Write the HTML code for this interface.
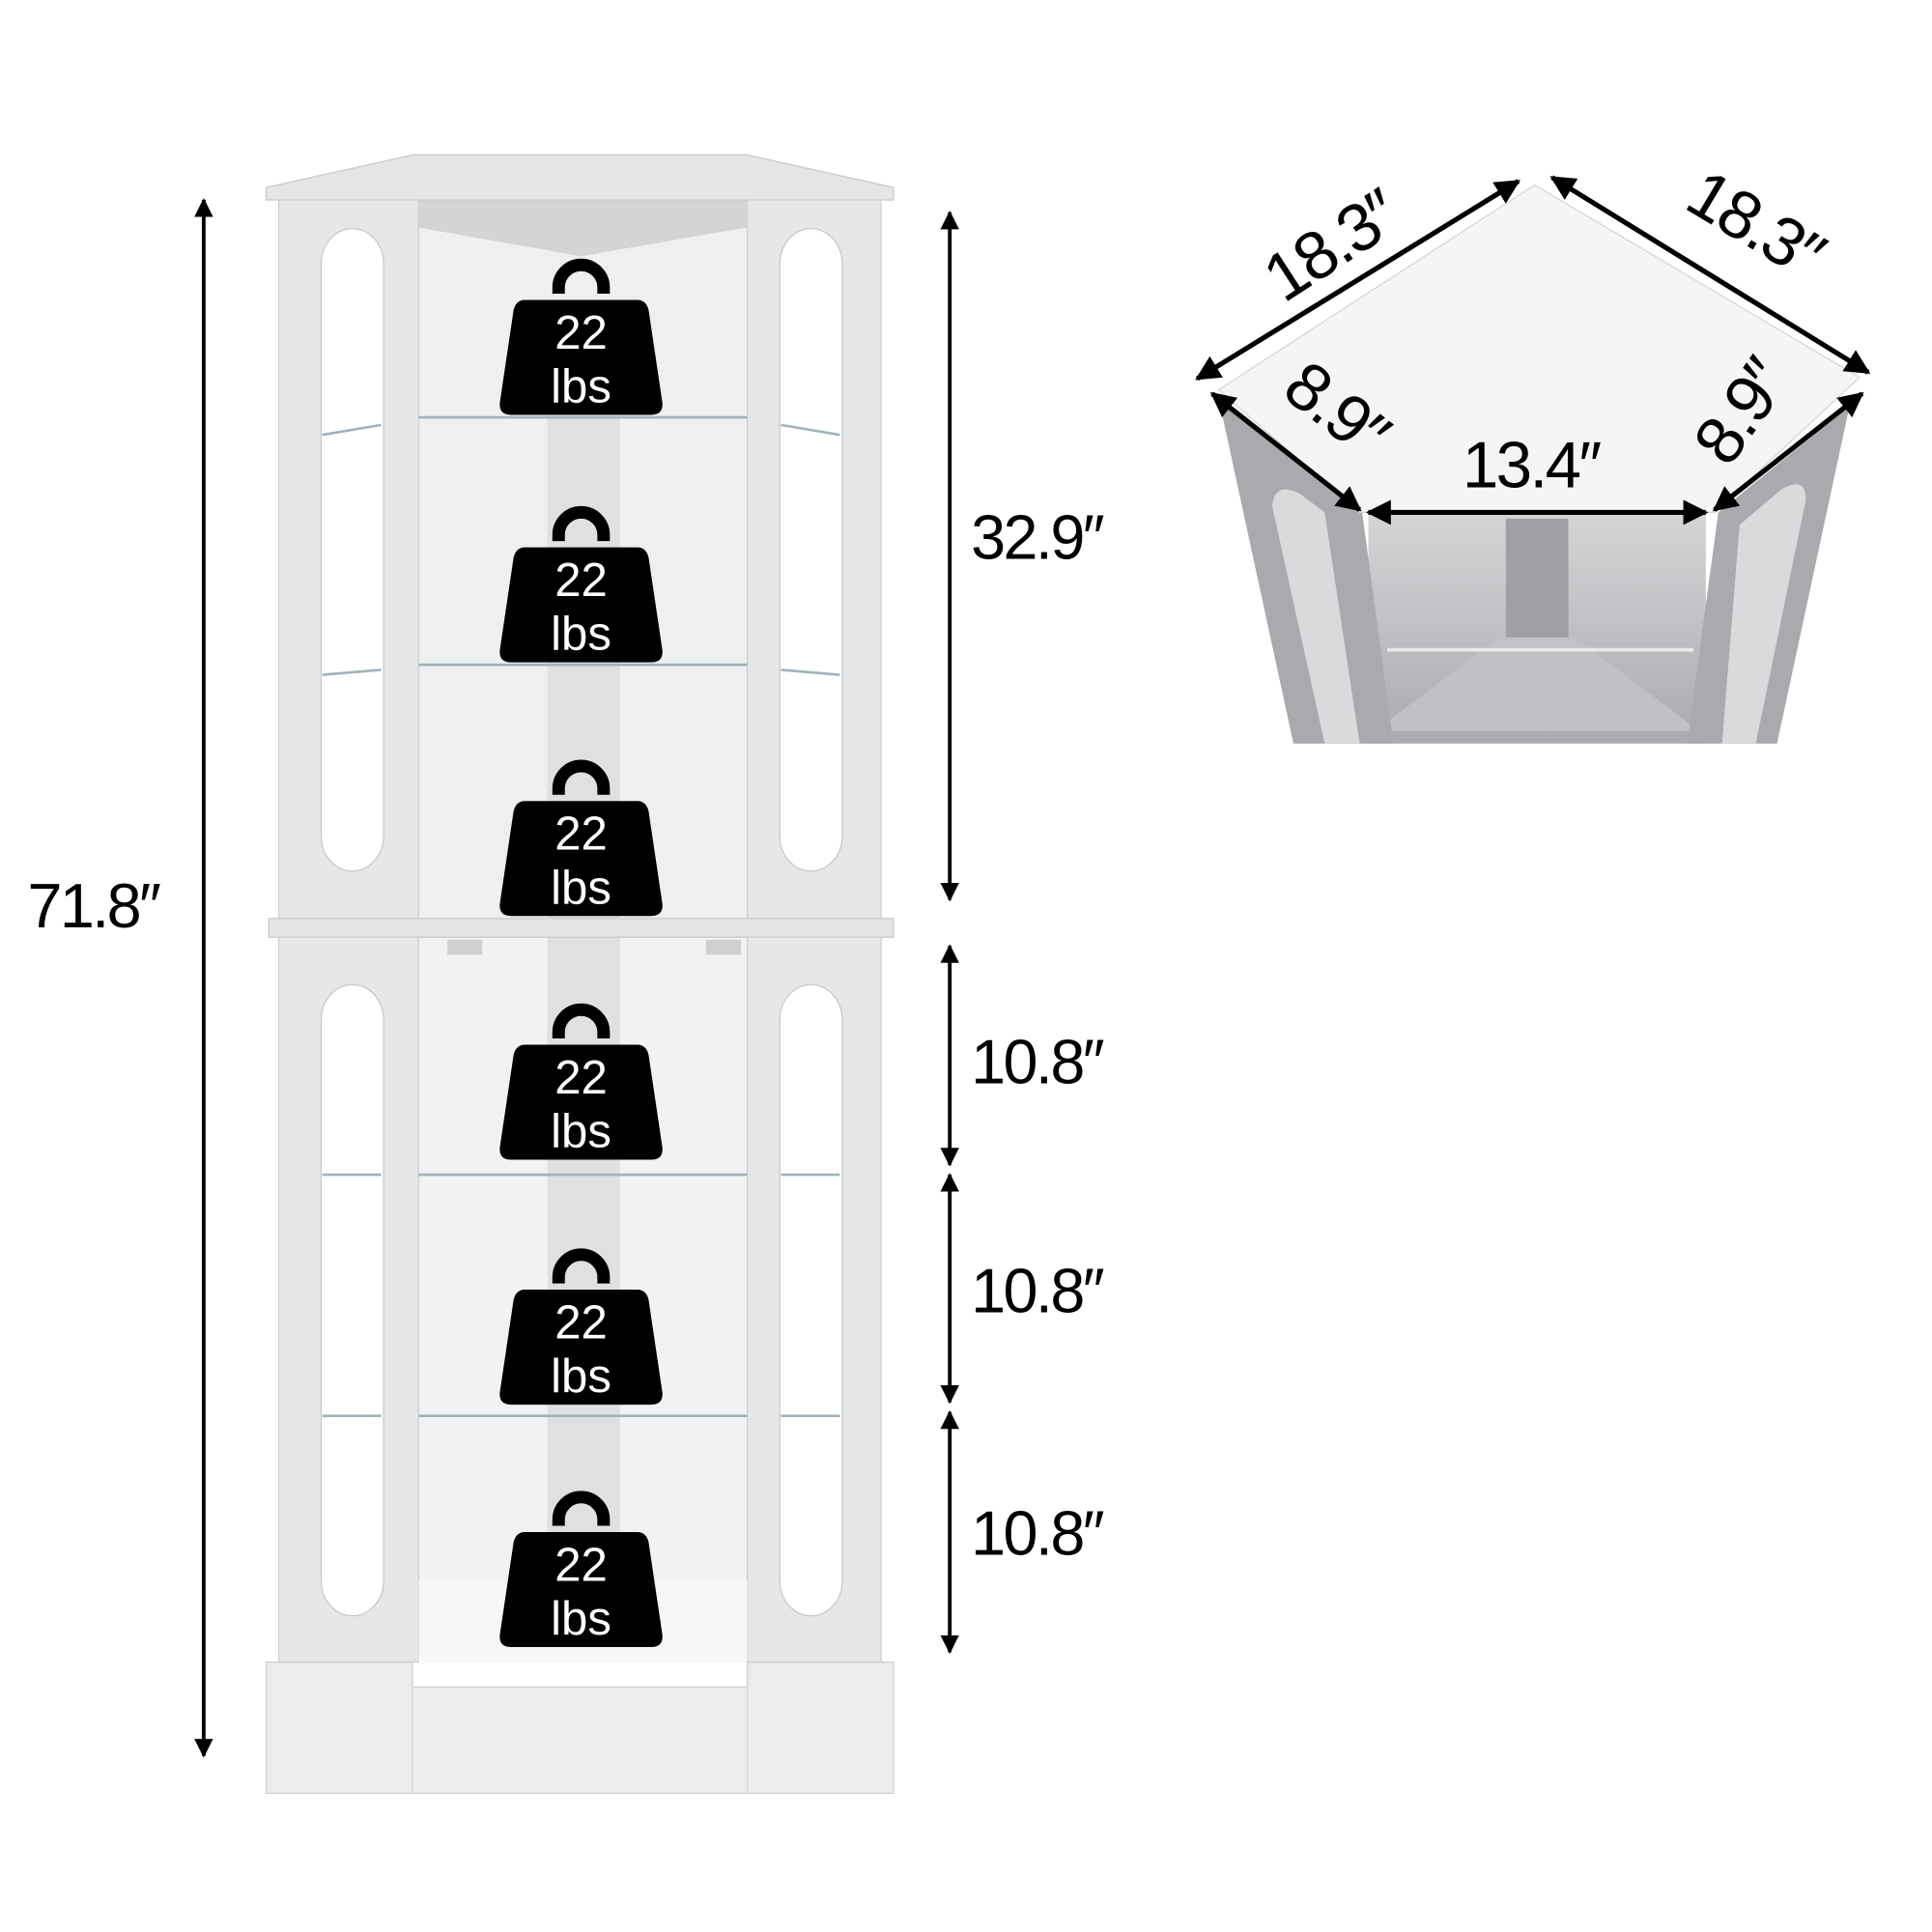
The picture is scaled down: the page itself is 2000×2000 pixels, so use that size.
<!DOCTYPE html>
<html><head><meta charset="utf-8"><style>html,body{margin:0;padding:0;background:#fff}svg{display:block}text{font-family:"Liberation Sans",sans-serif}</style></head>
<body>
<svg width="2000" height="2000" viewBox="0 0 1546 1546" xmlns="http://www.w3.org/2000/svg">
<defs>
<marker id="ah" viewBox="0 0 10 10" refX="9" refY="5" markerWidth="5" markerHeight="5" orient="auto-start-reverse"><path d="M0,0 L10,5 L0,10 Z" fill="#000"/></marker>
<linearGradient id="inner" x1="0" y1="0" x2="0" y2="1"><stop offset="0" stop-color="#d4d5d7"/><stop offset="1" stop-color="#a9abae"/></linearGradient>
<g id="wt">
<path d="M-18,-5 V-10 A18,18 0 0 1 18,-10 V-5" fill="none" stroke="#000" stroke-width="10"/>
<path d="M-45,0 H45 Q52,0 54,8 L65,82 Q66,92 56,92 H-56 Q-66,92 -65,82 L-54,8 Q-52,0 -45,0 Z" fill="#000"/>
</g>
</defs>
<rect width="1546" height="1546" fill="#fff"/>
<g>
<rect x="335" y="150" width="263" height="585" fill="#eeeff0"/>
<rect x="335" y="750" width="263" height="580" fill="#f1f2f3"/>
<polygon points="335,150 598,150 598,182 465,205 335,182" fill="#d3d4d6"/>
<rect x="438" y="335" width="58" height="400" fill="#dfe0e2"/>
<rect x="438" y="750" width="58" height="520" fill="#dfe0e2"/>
<polygon points="213,150 330,124 598,124 715,150 715,160 213,160" fill="#e4e5e7" stroke="#c9cacc"/>
<rect x="223" y="160" width="112" height="575" fill="#e6e7e9" stroke="#cfd0d2"/>
<rect x="598" y="160" width="107" height="575" fill="#e6e7e9" stroke="#cfd0d2"/>
<rect x="257" y="183" width="50" height="514" rx="28" fill="#fff" stroke="#c8c9cb"/>
<rect x="624" y="183" width="50" height="514" rx="28" fill="#fff" stroke="#c8c9cb"/>
<rect x="215" y="735" width="500" height="15" fill="#e2e3e5" stroke="#c9cacc"/>
<rect x="223" y="750" width="112" height="580" fill="#e6e7e9" stroke="#cfd0d2"/>
<rect x="598" y="750" width="107" height="580" fill="#e6e7e9" stroke="#cfd0d2"/>
<rect x="257" y="788" width="50" height="505" rx="28" fill="#fff" stroke="#c8c9cb"/>
<rect x="624" y="788" width="50" height="505" rx="28" fill="#fff" stroke="#c8c9cb"/>
<polygon points="335,1265 598,1265 598,1330 335,1330" fill="#f6f6f7"/>
<polygon points="213,1330 330,1330 330,1350 598,1350 598,1330 715,1330 715,1435 213,1435" fill="#ececed" stroke="#cfd0d2"/>
<line x1="330" y1="1350" x2="330" y2="1435" stroke="#d3d4d6"/>
<line x1="598" y1="1350" x2="598" y2="1435" stroke="#d3d4d6"/>
<g stroke="#9fb3b8" stroke-width="2">
<line x1="335" y1="334" x2="598" y2="334"/><line x1="335" y1="532" x2="598" y2="532"/>
<line x1="335" y1="940" x2="598" y2="940"/><line x1="335" y1="1133" x2="598" y2="1133"/>
<line x1="258" y1="348" x2="305" y2="340"/><line x1="625" y1="340" x2="672" y2="348"/>
<line x1="258" y1="540" x2="305" y2="536"/><line x1="625" y1="536" x2="672" y2="540"/>
<line x1="258" y1="940" x2="305" y2="940"/><line x1="625" y1="940" x2="672" y2="940"/>
<line x1="258" y1="1133" x2="305" y2="1133"/><line x1="625" y1="1133" x2="672" y2="1133"/>
</g>
<rect x="358" y="752" width="28" height="12" fill="#cfd0d2"/><rect x="565" y="752" width="28" height="12" fill="#cfd0d2"/>
</g>
<g>
<use href="#wt" x="465" y="240"/><use href="#wt" x="465" y="438"/><use href="#wt" x="465" y="641"/>
<use href="#wt" x="465" y="836"/><use href="#wt" x="465" y="1032"/><use href="#wt" x="465" y="1226"/>
</g>
<g fill="#fff" font-size="38" text-anchor="middle">
<text x="465" y="279">22</text><text x="465" y="322">lbs</text>
<text x="465" y="477">22</text><text x="465" y="520">lbs</text>
<text x="465" y="680">22</text><text x="465" y="723">lbs</text>
<text x="465" y="875">22</text><text x="465" y="918">lbs</text>
<text x="465" y="1071">22</text><text x="465" y="1114">lbs</text>
<text x="465" y="1265">22</text><text x="465" y="1308">lbs</text>
</g>
<g stroke="#000" stroke-width="3" marker-start="url(#ah)" marker-end="url(#ah)">
<line x1="163" y1="160" x2="163" y2="1405"/>
<line x1="760" y1="170" x2="760" y2="720"/>
<line x1="760" y1="757" x2="760" y2="932"/>
<line x1="760" y1="940" x2="760" y2="1122"/>
<line x1="760" y1="1130" x2="760" y2="1322"/>
</g>
<g font-size="50" fill="#000" letter-spacing="-2">
<text x="22" y="742">71.8″</text>
<text x="777" y="447">32.9″</text>
<text x="777" y="867">10.8″</text>
<text x="777" y="1050">10.8″</text>
<text x="777" y="1244">10.8″</text>
</g>
<g>
<rect x="1095" y="410" width="270" height="185" fill="url(#inner)"/>
<rect x="1205" y="415" width="50" height="110" fill="#9ea0a3"/>
<polygon points="1100,585 1200,510 1260,510 1360,585" fill="#bfc1c4"/>
<line x1="1110" y1="520" x2="1355" y2="520" stroke="#e8e8e8" stroke-width="3"/>
<polygon points="975,318 1090,410 1115,595 1035,595" fill="#a8aaad"/>
<polygon points="1375,410 1480,325 1422,595 1350,595" fill="#a8aaad"/>
<path d="M1018,405 Q1020,385 1040,395 L1060,410 L1088,595 H1060 Z" fill="#d9dadc"/>
<path d="M1445,400 Q1445,380 1425,392 L1392,420 L1378,595 H1405 Z" fill="#d9dadc"/>
<polygon points="975,312 1228,148 1488,302 1372,410 1088,410" fill="#f4f5f6" stroke="#d5d6d8"/>
</g>
<g stroke="#000" stroke-width="4" marker-start="url(#ah)" marker-end="url(#ah)">
<line x1="958" y1="303" x2="1215" y2="145"/>
<line x1="1242" y1="142" x2="1495" y2="298"/>
<line x1="970" y1="315" x2="1088" y2="408"/>
<line x1="1095" y1="410" x2="1365" y2="410"/>
<line x1="1372" y1="408" x2="1490" y2="315"/>
</g>
<g font-size="54" fill="#000" letter-spacing="-2" text-anchor="middle">
<text transform="translate(1075,212) rotate(-33)">18.3″</text>
<text transform="translate(1395,195) rotate(31)">18.3″</text>
<text transform="translate(1058,342) rotate(38)">8.9″</text>
<text transform="translate(1408,340) rotate(-55)">8.9″</text>
<text x="1225" y="390" font-size="52">13.4″</text>
</g>
</svg>
</body></html>
